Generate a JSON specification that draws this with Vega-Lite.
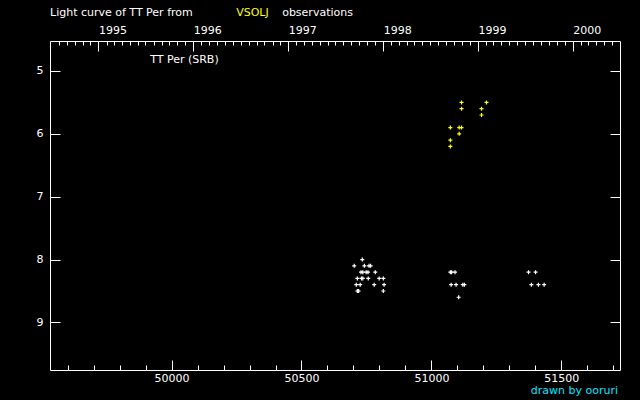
{
  "$schema": "https://vega.github.io/schema/vega-lite/v6.json",
  "width": 570,
  "height": 329,
  "autosize": "none",
  "padding": {"left": 50, "top": 41, "right": 20, "bottom": 30},
  "background": "black",
  "config": {
    "view": {"stroke": null},
    "axis": {
      "domainColor": "white",
      "tickColor": "white",
      "labelColor": "white",
      "labelFont": "DejaVu Sans",
      "labelFontSize": 11,
      "grid": false,
      "labelFlush": false,
      "labelOverlap": false,
      "tickWidth": 1,
      "domainWidth": 1
    }
  },
  "datasets": {
    "obs": [
      {"jd": 50703, "mag": 8.1, "source": "other"},
      {"jd": 50734, "mag": 8.0, "source": "other"},
      {"jd": 50742, "mag": 8.1, "source": "other"},
      {"jd": 50760, "mag": 8.1, "source": "other"},
      {"jd": 50766, "mag": 8.1, "source": "other"},
      {"jd": 50729, "mag": 8.2, "source": "other"},
      {"jd": 50736, "mag": 8.2, "source": "other"},
      {"jd": 50749, "mag": 8.2, "source": "other"},
      {"jd": 50756, "mag": 8.2, "source": "other"},
      {"jd": 50784, "mag": 8.2, "source": "other"},
      {"jd": 50715, "mag": 8.3, "source": "other"},
      {"jd": 50731, "mag": 8.3, "source": "other"},
      {"jd": 50736, "mag": 8.3, "source": "other"},
      {"jd": 50757, "mag": 8.3, "source": "other"},
      {"jd": 50799, "mag": 8.3, "source": "other"},
      {"jd": 50815, "mag": 8.3, "source": "other"},
      {"jd": 50711, "mag": 8.4, "source": "other"},
      {"jd": 50726, "mag": 8.4, "source": "other"},
      {"jd": 50780, "mag": 8.4, "source": "other"},
      {"jd": 50818, "mag": 8.4, "source": "other"},
      {"jd": 50715, "mag": 8.5, "source": "other"},
      {"jd": 50720, "mag": 8.5, "source": "other"},
      {"jd": 50815, "mag": 8.5, "source": "other"},
      {"jd": 51073, "mag": 8.2, "source": "other"},
      {"jd": 51078, "mag": 8.2, "source": "other"},
      {"jd": 51091, "mag": 8.2, "source": "other"},
      {"jd": 51076, "mag": 8.4, "source": "other"},
      {"jd": 51095, "mag": 8.4, "source": "other"},
      {"jd": 51121, "mag": 8.4, "source": "other"},
      {"jd": 51127, "mag": 8.4, "source": "other"},
      {"jd": 51105, "mag": 8.6, "source": "other"},
      {"jd": 51374, "mag": 8.2, "source": "other"},
      {"jd": 51401, "mag": 8.2, "source": "other"},
      {"jd": 51385, "mag": 8.4, "source": "other"},
      {"jd": 51412, "mag": 8.4, "source": "other"},
      {"jd": 51434, "mag": 8.4, "source": "other"},
      {"jd": 51116, "mag": 5.5, "source": "VSOLJ"},
      {"jd": 51212, "mag": 5.5, "source": "VSOLJ"},
      {"jd": 51116, "mag": 5.6, "source": "VSOLJ"},
      {"jd": 51193, "mag": 5.6, "source": "VSOLJ"},
      {"jd": 51193, "mag": 5.7, "source": "VSOLJ"},
      {"jd": 51073, "mag": 5.9, "source": "VSOLJ"},
      {"jd": 51107, "mag": 5.9, "source": "VSOLJ"},
      {"jd": 51116, "mag": 5.9, "source": "VSOLJ"},
      {"jd": 51107, "mag": 6.0, "source": "VSOLJ"},
      {"jd": 51073, "mag": 6.1, "source": "VSOLJ"},
      {"jd": 51073, "mag": 6.2, "source": "VSOLJ"}
    ],
    "one": [{}]
  },
  "data": {"name": "obs"},
  "resolve": {"axis": {"x": "independent", "y": "independent"}},
  "layer": [
    {
      "mark": {"type": "point", "shape": "M-1,0L1,0M0,-1L0,1", "size": 16, "strokeWidth": 1.2, "opacity": 1},
      "encoding": {
        "x": {"field": "jd", "type": "quantitative",
              "scale": {"domain": [49532, 51726], "nice": false, "zero": false},
              "axis": {"orient": "bottom", "title": null, "values": [50000, 50500, 51000, 51500], "format": "d", "tickSize": -10, "labelPadding": 12, "domain": true}},
        "y": {"field": "mag", "type": "quantitative",
              "scale": {"domain": [4.523, 9.757], "reverse": true, "nice": false, "zero": false},
              "axis": {"orient": "left", "title": null, "values": [5, 6, 7, 8, 9], "format": "d", "tickSize": -10, "labelPadding": 17, "domain": true}},
        "color": {"field": "source", "type": "nominal",
                  "scale": {"domain": ["other", "VSOLJ"], "range": ["white", "yellow"]}, "legend": null}
      }
    },
    {
      "mark": {"type": "point", "opacity": 0},
      "encoding": {
        "x": {"field": "jd", "type": "quantitative",
              "scale": {"domain": [49532, 51726], "nice": false, "zero": false},
              "axis": {"orient": "bottom", "title": null, "values": [49600, 49700, 49800, 49900, 50100, 50200, 50300, 50400, 50600, 50700, 50800, 50900, 51100, 51200, 51300, 51400, 51600, 51700], "tickSize": -5, "labels": false, "domain": false}},
        "y": {"field": "mag", "type": "quantitative",
              "scale": {"domain": [4.523, 9.757], "reverse": true, "nice": false, "zero": false},
              "axis": {"orient": "right", "title": null, "values": [5, 6, 7, 8, 9], "tickSize": -10, "labels": false, "domain": true}}
      }
    },
    {
      "mark": {"type": "point", "opacity": 0},
      "encoding": {
        "x": {"field": "jd", "type": "quantitative",
              "scale": {"domain": [49532, 51726], "nice": false, "zero": false},
              "axis": {"orient": "top", "title": null, "values": [49718.5, 50083.5, 50449.5, 50814.5, 51179.5, 51544.5], "tickSize": -10, "labelAlign": "left", "labelPadding": 16, "labelExpr": "format(1995 + round((datum.value - 49718.5) / 365.25), 'd')", "domain": true}},
        "y": {"field": "mag", "type": "quantitative",
              "scale": {"domain": [4.523, 9.757], "reverse": true, "nice": false, "zero": false},
              "axis": null}
      }
    },
    {
      "mark": {"type": "point", "opacity": 0},
      "encoding": {
        "x": {"field": "jd", "type": "quantitative",
              "scale": {"domain": [49532, 51726], "nice": false, "zero": false},
              "axis": {"orient": "top", "title": null, "values": [49565.5, 49596.5, 49626.5, 49657.5, 49687.5, 49749.5, 49777.5, 49808.5, 49838.5, 49869.5, 49899.5, 49930.5, 49961.5, 49991.5, 50022.5, 50052.5, 50114.5, 50143.5, 50174.5, 50204.5, 50235.5, 50265.5, 50296.5, 50327.5, 50357.5, 50388.5, 50418.5, 50480.5, 50508.5, 50539.5, 50569.5, 50600.5, 50630.5, 50661.5, 50692.5, 50722.5, 50753.5, 50783.5, 50845.5, 50873.5, 50904.5, 50934.5, 50965.5, 50995.5, 51026.5, 51057.5, 51087.5, 51118.5, 51148.5, 51210.5, 51238.5, 51269.5, 51299.5, 51330.5, 51360.5, 51391.5, 51422.5, 51452.5, 51483.5, 51513.5, 51575.5, 51604.5, 51635.5, 51665.5, 51696.5], "tickSize": -4, "labels": false, "domain": false}},
        "y": {"field": "mag", "type": "quantitative",
              "scale": {"domain": [4.523, 9.757], "reverse": true, "nice": false, "zero": false},
              "axis": null}
      }
    },
    {
      "data": {"name": "one"},
      "mark": {"type": "text", "text": "Light curve of TT Per from", "align": "left", "baseline": "alphabetic", "font": "DejaVu Sans", "fontSize": 11, "color": "white"},
      "encoding": {
        "x": {"datum": 49532, "type": "quantitative", "scale": {"domain": [49532, 51726], "nice": false, "zero": false}, "axis": null},
        "y": {"datum": 4.133, "type": "quantitative", "scale": {"domain": [4.523, 9.757], "reverse": true, "nice": false, "zero": false}, "axis": null}
      }
    },
    {
      "data": {"name": "one"},
      "mark": {"type": "text", "text": "VSOLJ", "align": "left", "baseline": "alphabetic", "font": "DejaVu Sans", "fontSize": 11, "color": "yellow"},
      "encoding": {
        "x": {"datum": 50248.6, "type": "quantitative", "scale": {"domain": [49532, 51726], "nice": false, "zero": false}, "axis": null},
        "y": {"datum": 4.133, "type": "quantitative", "scale": {"domain": [4.523, 9.757], "reverse": true, "nice": false, "zero": false}, "axis": null}
      }
    },
    {
      "data": {"name": "one"},
      "mark": {"type": "text", "text": "observations", "align": "left", "baseline": "alphabetic", "font": "DejaVu Sans", "fontSize": 11, "color": "white"},
      "encoding": {
        "x": {"datum": 50425.6, "type": "quantitative", "scale": {"domain": [49532, 51726], "nice": false, "zero": false}, "axis": null},
        "y": {"datum": 4.133, "type": "quantitative", "scale": {"domain": [4.523, 9.757], "reverse": true, "nice": false, "zero": false}, "axis": null}
      }
    },
    {
      "data": {"name": "one"},
      "mark": {"type": "text", "text": "TT Per (SRB)", "align": "left", "baseline": "alphabetic", "font": "DejaVu Sans", "fontSize": 11, "color": "white"},
      "encoding": {
        "x": {"datum": 49917.6, "type": "quantitative", "scale": {"domain": [49532, 51726], "nice": false, "zero": false}, "axis": null},
        "y": {"datum": 4.88, "type": "quantitative", "scale": {"domain": [4.523, 9.757], "reverse": true, "nice": false, "zero": false}, "axis": null}
      }
    },
    {
      "data": {"name": "one"},
      "mark": {"type": "text", "text": "drawn by ooruri", "align": "right", "baseline": "alphabetic", "font": "DejaVu Sans", "fontSize": 11, "color": "#00e5ff"},
      "encoding": {
        "x": {"datum": 51718.6, "type": "quantitative", "scale": {"domain": [49532, 51726], "nice": false, "zero": false}, "axis": null},
        "y": {"datum": 10.14, "type": "quantitative", "scale": {"domain": [4.523, 9.757], "reverse": true, "nice": false, "zero": false}, "axis": null}
      }
    }
  ]
}
